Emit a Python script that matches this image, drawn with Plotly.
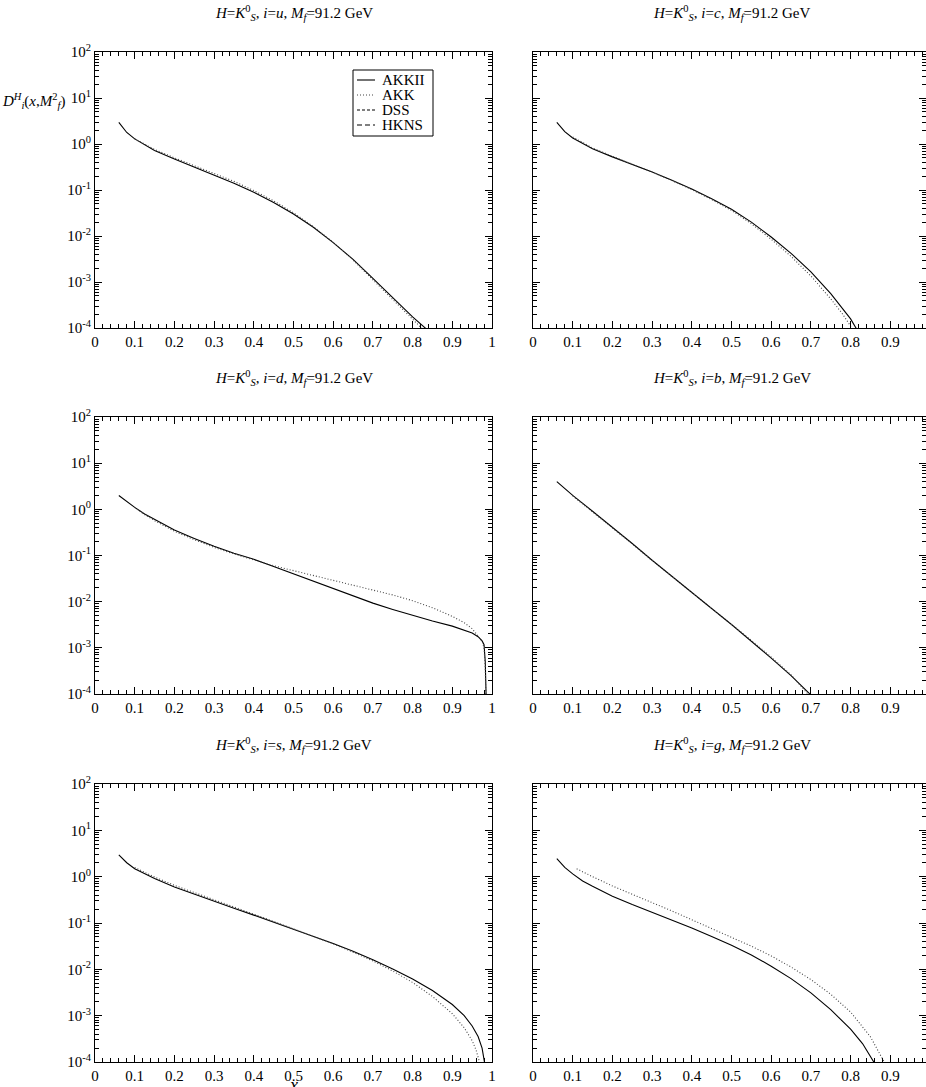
import plotly.graph_objects as go
from plotly.subplots import make_subplots

# ---------- data: x and D_i^H(x, M_f^2) ----------

u_akkii_x = [0.06, 0.08, 0.1, 0.15, 0.2, 0.25, 0.3, 0.35, 0.4, 0.45, 0.5, 0.55, 0.6, 0.65, 0.7, 0.75, 0.8, 0.836]
u_akkii_y = [2.95, 1.78, 1.29, 0.72, 0.47, 0.316, 0.214, 0.141, 0.089, 0.0537, 0.0302, 0.0155, 7.2e-3, 3.1e-3, 1.2e-3, 4.6e-4, 1.74e-4, 9.3e-5]
u_akk_x = [0.1, 0.15, 0.2, 0.25, 0.3, 0.35, 0.4, 0.45, 0.5, 0.55, 0.6, 0.65, 0.7, 0.75, 0.8, 0.826]
u_akk_y = [1.3, 0.76, 0.5, 0.34, 0.232, 0.154, 0.097, 0.058, 0.032, 0.016, 7.3e-3, 3.0e-3, 1.12e-3, 4.1e-4, 1.5e-4, 9.3e-5]

c_akkii_x = [0.06, 0.08, 0.1, 0.15, 0.2, 0.25, 0.3, 0.35, 0.4, 0.45, 0.5, 0.55, 0.6, 0.65, 0.7, 0.75, 0.8, 0.815]
c_akkii_y = [2.95, 1.86, 1.35, 0.79, 0.525, 0.363, 0.245, 0.162, 0.105, 0.0646, 0.038, 0.02, 9.5e-3, 4.2e-3, 1.66e-3, 5.6e-4, 1.58e-4, 9.5e-5]
c_akk_x = [0.1, 0.15, 0.2, 0.25, 0.3, 0.35, 0.4, 0.45, 0.5, 0.55, 0.6, 0.65, 0.7, 0.75, 0.78, 0.805]
c_akk_y = [1.42, 0.82, 0.54, 0.37, 0.245, 0.16, 0.102, 0.062, 0.036, 0.0185, 8.5e-3, 3.6e-3, 1.35e-3, 4.3e-4, 2.0e-4, 9.5e-5]

d_akkii_x = [0.06, 0.08, 0.1, 0.125, 0.15, 0.2, 0.25, 0.3, 0.35, 0.4, 0.45, 0.5, 0.55, 0.6, 0.65, 0.7, 0.75,
             0.8, 0.85, 0.9, 0.93, 0.95, 0.965, 0.975, 0.98, 0.983, 0.986]
d_akkii_y = [2.0, 1.45, 1.1, 0.79, 0.60, 0.355, 0.234, 0.158, 0.112, 0.083, 0.0575, 0.04, 0.0275, 0.019, 0.0132, 9.3e-3, 6.8e-3,
             5.0e-3, 3.8e-3, 2.95e-3, 2.45e-3, 2.1e-3, 1.74e-3, 1.41e-3, 1.17e-3, 5e-4, 5e-5]
d_akk_x = [0.1, 0.125, 0.15, 0.2, 0.25, 0.3, 0.35, 0.4, 0.45, 0.5, 0.55, 0.6, 0.65, 0.7, 0.75, 0.8, 0.85, 0.9,
           0.93, 0.95, 0.965, 0.975, 0.98, 0.983, 0.985]
d_akk_y = [1.1, 0.77, 0.57, 0.335, 0.22, 0.15, 0.108, 0.08, 0.06, 0.047, 0.037, 0.029, 0.023, 0.018, 0.014, 0.0105, 7.4e-3, 4.8e-3,
           3.5e-3, 2.6e-3, 1.85e-3, 1.4e-3, 1.0e-3, 4e-4, 5e-5]

b_akkii_x = [0.06, 0.08, 0.1, 0.15, 0.2, 0.25, 0.3, 0.35, 0.4, 0.45, 0.5, 0.55, 0.6, 0.65, 0.7]
b_akkii_y = [3.98, 2.75, 2.0, 0.91, 0.41, 0.182, 0.079, 0.035, 0.0158, 7.1e-3, 3.2e-3, 1.4e-3, 6.0e-4, 2.5e-4, 9.5e-5]
b_akk_x = [0.1, 0.15, 0.2, 0.25, 0.3, 0.35, 0.4, 0.45, 0.5, 0.55, 0.6, 0.65, 0.695]
b_akk_y = [1.95, 0.89, 0.40, 0.178, 0.078, 0.035, 0.016, 7.2e-3, 3.3e-3, 1.45e-3, 6.3e-4, 2.6e-4, 9.5e-5]

s_akkii_x = [0.06, 0.08, 0.1, 0.15, 0.2, 0.25, 0.3, 0.35, 0.4, 0.45, 0.5, 0.55, 0.6, 0.65, 0.7, 0.75, 0.8,
             0.85, 0.9, 0.93, 0.95, 0.965, 0.975, 0.982]
s_akkii_y = [2.95, 2.0, 1.48, 0.91, 0.60, 0.417, 0.295, 0.209, 0.148, 0.105, 0.074, 0.0525, 0.0363, 0.0245, 0.0162, 0.0102, 6.2e-3,
             3.5e-3, 1.74e-3, 1.0e-3, 6.0e-4, 3.55e-4, 2.0e-4, 8.9e-5]
s_akk_x = [0.1, 0.15, 0.2, 0.25, 0.3, 0.35, 0.4, 0.45, 0.5, 0.55, 0.6, 0.65, 0.7, 0.75, 0.8, 0.85, 0.9, 0.93, 0.95, 0.96, 0.97]
s_akk_y = [1.58, 0.98, 0.65, 0.45, 0.316, 0.22, 0.155, 0.108, 0.075, 0.052, 0.0355, 0.0235, 0.0152, 9.2e-3, 5.2e-3,
           2.6e-3, 1.1e-3, 5.5e-4, 2.9e-4, 1.8e-4, 9.0e-5]

g_akkii_x = [0.06, 0.08, 0.1, 0.125, 0.15, 0.2, 0.25, 0.3, 0.35, 0.4, 0.45, 0.5, 0.55, 0.6, 0.65, 0.7, 0.75, 0.8, 0.83, 0.86]
g_akkii_y = [2.45, 1.58, 1.15, 0.81, 0.62, 0.38, 0.25, 0.17, 0.115, 0.078, 0.051, 0.033, 0.0204, 0.0117, 6.3e-3, 3.1e-3, 1.35e-3, 5.1e-4, 2.5e-4, 9.5e-5]
g_akk_x = [0.11, 0.125, 0.15, 0.2, 0.25, 0.3, 0.35, 0.4, 0.45, 0.5, 0.55, 0.6, 0.65, 0.7, 0.75, 0.8, 0.85, 0.886]
g_akk_y = [1.48, 1.26, 1.0, 0.63, 0.41, 0.275, 0.182, 0.117, 0.076, 0.049, 0.0316, 0.0195, 0.0112, 6.0e-3, 2.9e-3, 1.2e-3, 3.5e-4, 9.5e-5]

# panels: parton label, row, col, AKKII curve, AKK curve
panels = [
    ("u", 1, 1, (u_akkii_x, u_akkii_y), (u_akk_x, u_akk_y)),
    ("c", 1, 2, (c_akkii_x, c_akkii_y), (c_akk_x, c_akk_y)),
    ("d", 2, 1, (d_akkii_x, d_akkii_y), (d_akk_x, d_akk_y)),
    ("b", 2, 2, (b_akkii_x, b_akkii_y), (b_akk_x, b_akk_y)),
    ("s", 3, 1, (s_akkii_x, s_akkii_y), (s_akk_x, s_akk_y)),
    ("g", 3, 2, (g_akkii_x, g_akkii_y), (g_akk_x, g_akk_y)),
]

sets = ["AKKII", "AKK", "DSS", "HKNS"]
dashes = ["solid", "1px,2px", "3px,2px", "5px,3px"]
colors = ["black", "#444444", "black", "black"]

y_major = [1e-4, 1e-3, 1e-2, 1e-1, 1e0, 1e1, 1e2]
y_major_text = ["10<sup>-4</sup>", "10<sup>-3</sup>", "10<sup>-2</sup>", "10<sup>-1</sup>",
                "10<sup>0</sup>", "10<sup>1</sup>", "10<sup>2</sup>"]
x_major = [0, 0.1, 0.2, 0.3, 0.4, 0.5, 0.6, 0.7, 0.8, 0.9, 1]
x_major_text = ["0", "0.1", "0.2", "0.3", "0.4", "0.5", "0.6", "0.7", "0.8", "0.9", "1"]

W, H = 926, 1087
FONT = "Liberation Serif, Times New Roman, serif"

# pixel boxes of the panels (left, right, top, bottom); right column runs off the page
col_px = {1: (95, 492), 2: (533, 926)}
row_px = {1: (52, 328), 2: (417, 694), 3: (784, 1062)}
PX_PER_UNIT = 397.0


def px(v):
    return v / W


def py(v):
    return 1 - v / H


fig = make_subplots(rows=3, cols=2)

for parton, r, c, solid, dotted in panels:
    for (xs, ys), name, dash, col in zip([solid, dotted], sets[:2], dashes[:2], colors[:2]):
        fig.add_trace(go.Scatter(x=xs, y=ys, mode="lines", name=name, showlegend=False,
                                 line=dict(color=col, width=1.1, dash=dash)), row=r, col=c)

    x0, x1 = col_px[c]
    t, b = row_px[r]
    xr = [0, (x1 - x0) / PX_PER_UNIT]

    fig.update_xaxes(row=r, col=c, domain=[px(x0), px(x1)], range=xr, automargin=False,
                     tickvals=x_major if c == 1 else x_major[:-1],
                     ticktext=x_major_text if c == 1 else x_major_text[:-1],
                     ticks="inside", ticklen=7, tickwidth=1, tickcolor="black",
                     minor=dict(dtick=0.02, ticks="inside", ticklen=4, tickwidth=1, tickcolor="black"),
                     showline=True, linecolor="black", linewidth=1, mirror="allticks",
                     showgrid=False, zeroline=False,
                     tickfont=dict(family=FONT, size=15, color="black"))

    minor_vals = [k * 10.0 ** e for e in range(-4, 2) for k in range(2, 10)]
    fig.update_yaxes(row=r, col=c, domain=[py(b), py(t)], type="log", range=[-4, 2], automargin=False,
                     tickvals=y_major, ticktext=y_major_text,
                     showticklabels=(c == 1),
                     ticks="inside", ticklen=7, tickwidth=1, tickcolor="black",
                     minor=dict(tickvals=minor_vals, ticks="inside", ticklen=4, tickwidth=1, tickcolor="black"),
                     showline=True, linecolor="black", linewidth=1, mirror="allticks",
                     showgrid=False, zeroline=False,
                     tickfont=dict(family=FONT, size=15, color="black"))

    title = ("<i>H</i>=<i>K</i><sup>0</sup><sub><i>S</i></sub>, <i>i</i>=<i>%s</i>, "
             "<i>M</i><sub><i>f</i></sub>=91.2 GeV" % parton)
    fig.add_annotation(text=title, xref="paper", yref="paper",
                       x=px(x0 + 397 / 2), y=py(t - 39),
                       xanchor="center", yanchor="middle", showarrow=False,
                       font=dict(family=FONT, size=15, color="black"))

# legend box in the top-left panel (drawn by hand to keep xmgrace's compact spacing)
LEG_L, LEG_R, LEG_T, LEG_B = 353, 433, 70, 136
fig.add_shape(type="rect", xref="paper", yref="paper",
              x0=px(LEG_L), x1=px(LEG_R), y0=py(LEG_B), y1=py(LEG_T),
              line=dict(color="black", width=1), fillcolor="white")
for k, (name, dash, col) in enumerate(zip(sets, dashes, colors)):
    yy = py(80 + 15 * k)
    fig.add_shape(type="line", xref="paper", yref="paper",
                  x0=px(357), x1=px(375), y0=yy, y1=yy,
                  line=dict(color=col, width=1.1, dash=dash))
    fig.add_annotation(text=name, xref="paper", yref="paper", x=px(380), y=yy,
                       xanchor="left", yanchor="middle", showarrow=False,
                       font=dict(family=FONT, size=15, color="black"))

# y-axis label (drawn once, top-left)
fig.add_annotation(text="<i>D</i><sup><i>H</i></sup><sub><i>i</i></sub>(<i>x</i>,<i>M</i><sup>2</sup><sub><i>f</i></sub>)",
                   xref="paper", yref="paper", x=px(0), y=py(101),
                   xanchor="left", yanchor="middle", showarrow=False,
                   font=dict(family=FONT, size=15, color="black"))
# x-axis label (drawn once, bottom-left)
fig.add_annotation(text="<i>x</i>", xref="paper", yref="paper",
                   x=px(293), y=py(1073), xanchor="center", yanchor="top",
                   showarrow=False, font=dict(family=FONT, size=18, color="black"))

fig.update_layout(
    width=W, height=H,
    margin=dict(l=0, r=0, t=0, b=0, autoexpand=False),
    paper_bgcolor="white", plot_bgcolor="white",
    font=dict(family=FONT, color="black"),
    showlegend=False,
)

# the default page keeps an 8px body margin; drop it so the figure sits at the corner
fig.write_html("out.html", config={"displayModeBar": False},
               post_script="document.body.style.margin='0px';")
